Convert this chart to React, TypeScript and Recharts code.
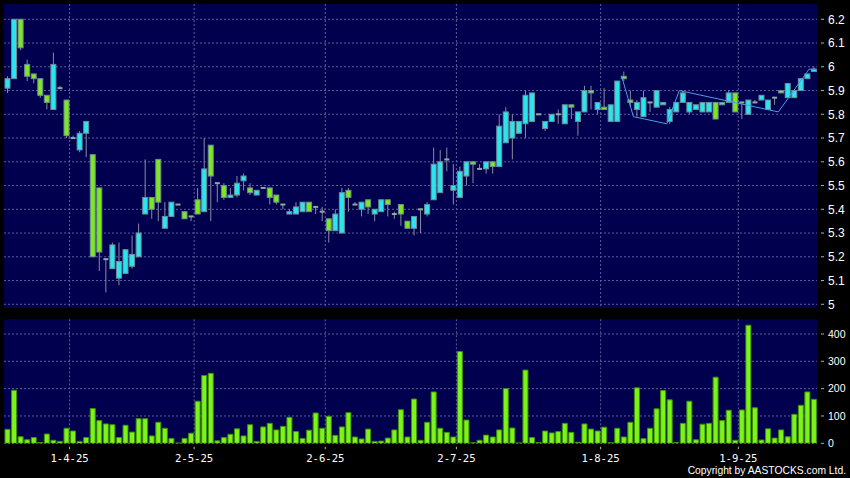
import React from "react";
import { ComposedChart, Bar, Line, XAxis, YAxis, CartesianGrid } from "recharts";

// daily OHLC, 18-3-25 .. 16-9-25
const opens = [
  5.91, 5.95, 6.2, 6.01, 5.97, 5.95, 5.88, 5.82, 5.91, 5.86,
  5.7, 5.65, 5.72, 5.63, 5.49, 5.19, 5.15, 5.11, 5.13, 5.16,
  5.2, 5.38, 5.45, 5.61, 5.32, 5.37, 5.42, 5.39, 5.37, 5.44,
  5.39, 5.67, 5.51, 5.5, 5.45, 5.46, 5.52, 5.49, 5.46, 5.49,
  5.49, 5.46, 5.42, 5.38, 5.38, 5.39, 5.43, 5.41, 5.39, 5.36,
  5.31, 5.3, 5.48, 5.42, 5.4, 5.44, 5.38, 5.39, 5.44, 5.38,
  5.42, 5.35, 5.32, 5.4, 5.38, 5.44, 5.47, 5.61, 5.48, 5.45,
  5.54, 5.6, 5.57, 5.57, 5.6, 5.58, 5.68, 5.7, 5.72, 5.76,
  5.77, 5.8, 5.74, 5.77, 5.8, 5.76, 5.84, 5.77, 5.81, 5.9,
  5.82, 5.83, 5.77, 5.77, 5.96, 5.86, 5.82, 5.79, 5.85, 5.83,
  5.84, 5.77, 5.81, 5.85, 5.81, 5.82, 5.81, 5.81, 5.85, 5.84,
  5.85, 5.89, 5.85, 5.8, 5.85, 5.86, 5.82, 5.87, 5.9, 5.87,
  5.87, 5.9, 5.95, 5.98,
];
const highs = [
  5.96, 6.2, 6.2, 6.03, 5.97, 5.95, 5.88, 6.06, 5.92, 5.86,
  5.71, 5.73, 5.77, 5.63, 5.49, 5.19, 5.26, 5.26, 5.23, 5.29,
  5.34, 5.61, 5.45, 5.61, 5.43, 5.43, 5.42, 5.39, 5.37, 5.49,
  5.7, 5.67, 5.51, 5.51, 5.49, 5.54, 5.55, 5.51, 5.48, 5.49,
  5.49, 5.46, 5.42, 5.4, 5.43, 5.43, 5.43, 5.41, 5.41, 5.36,
  5.4, 5.49, 5.49, 5.43, 5.43, 5.44, 5.4, 5.44, 5.44, 5.39,
  5.42, 5.35, 5.37, 5.4, 5.43, 5.66, 5.65, 5.66, 5.59, 5.58,
  5.6, 5.6, 5.59, 5.6, 5.6, 5.8, 5.83, 5.8, 5.77, 5.9,
  5.89, 5.8, 5.77, 5.8, 5.82, 5.84, 5.84, 5.81, 5.92, 5.92,
  5.85, 5.91, 5.84, 5.94, 5.98, 5.9, 5.86, 5.9, 5.85, 5.9,
  5.85, 5.83, 5.85, 5.9, 5.85, 5.84, 5.85, 5.85, 5.85, 5.85,
  5.9, 5.89, 5.85, 5.86, 5.86, 5.88, 5.86, 5.87, 5.9, 5.93,
  5.9, 5.95, 5.97, 6.0,
];
const lows = [
  5.89, 5.95, 6.07, 5.94, 5.93, 5.87, 5.82, 5.82, 5.91, 5.7,
  5.7, 5.64, 5.62, 5.2, 5.14, 5.05, 5.15, 5.08, 5.13, 5.15,
  5.2, 5.38, 5.36, 5.35, 5.32, 5.37, 5.42, 5.36, 5.35, 5.38,
  5.39, 5.35, 5.43, 5.44, 5.45, 5.45, 5.48, 5.46, 5.46, 5.49,
  5.42, 5.42, 5.4, 5.38, 5.38, 5.39, 5.39, 5.38, 5.35, 5.26,
  5.31, 5.3, 5.39, 5.42, 5.37, 5.38, 5.35, 5.39, 5.37, 5.36,
  5.33, 5.32, 5.29, 5.3, 5.37, 5.44, 5.47, 5.56, 5.42, 5.45,
  5.5, 5.51, 5.57, 5.55, 5.55, 5.58, 5.68, 5.61, 5.72, 5.7,
  5.77, 5.8, 5.73, 5.77, 5.76, 5.76, 5.78, 5.71, 5.81, 5.82,
  5.8, 5.82, 5.77, 5.77, 5.94, 5.83, 5.79, 5.79, 5.81, 5.83,
  5.84, 5.76, 5.81, 5.85, 5.8, 5.82, 5.81, 5.81, 5.78, 5.84,
  5.85, 5.81, 5.78, 5.8, 5.85, 5.86, 5.82, 5.84, 5.89, 5.87,
  5.87, 5.9, 5.95, 5.98,
];
const closes = [
  5.95, 6.2, 6.08, 5.96, 5.95, 5.88, 5.85, 6.01, 5.91, 5.71,
  5.7, 5.72, 5.77, 5.2, 5.22, 5.19, 5.25, 5.18, 5.23, 5.21,
  5.3, 5.45, 5.4, 5.43, 5.37, 5.43, 5.42, 5.36, 5.37, 5.38,
  5.57, 5.54, 5.51, 5.45, 5.46, 5.51, 5.54, 5.47, 5.48, 5.49,
  5.45, 5.43, 5.42, 5.39, 5.41, 5.43, 5.39, 5.41, 5.39, 5.31,
  5.38, 5.47, 5.45, 5.42, 5.43, 5.41, 5.4, 5.44, 5.42, 5.38,
  5.38, 5.32, 5.37, 5.4, 5.42, 5.59, 5.6, 5.61, 5.5, 5.56,
  5.6, 5.59, 5.57, 5.6, 5.58, 5.75, 5.81, 5.77, 5.77, 5.88,
  5.89, 5.8, 5.77, 5.8, 5.8, 5.84, 5.83, 5.81, 5.9, 5.89,
  5.85, 5.82, 5.84, 5.94, 5.95, 5.85, 5.85, 5.87, 5.85, 5.9,
  5.85, 5.82, 5.85, 5.89, 5.85, 5.84, 5.85, 5.85, 5.78, 5.85,
  5.89, 5.81, 5.85, 5.86, 5.85, 5.88, 5.86, 5.87, 5.89, 5.93,
  5.9, 5.95, 5.97, 5.99,
];
// volume ('000 shares)
const volumes = [
  51, 194, 24, 13, 21, 3, 34, 11, 7, 55,
  45, 7, 21, 127, 83, 71, 68, 21, 66, 41,
  90, 90, 27, 77, 55, 18, 1, 18, 37, 154,
  248, 256, 9, 21, 33, 53, 27, 68, 7, 60,
  73, 49, 62, 95, 43, 18, 48, 111, 55, 99,
  29, 60, 112, 23, 16, 52, 7, 8, 19, 49,
  123, 23, 162, 11, 77, 188, 55, 40, 23, 336,
  85, 2, 11, 30, 23, 49, 200, 56, 1, 268,
  21, 3, 45, 38, 43, 73, 40, 4, 71, 52,
  45, 59, 2, 55, 23, 77, 203, 17, 55, 126,
  193, 159, 3, 73, 154, 13, 70, 73, 242, 83,
  121, 11, 122, 432, 130, 12, 53, 19, 49, 24,
  106, 139, 188, 161,
];
const monthTicks = [9.5, 28.5, 48.5, 68.5, 90.5, 111.5];
const monthLabels = ["1-4-25", "2-5-25", "2-6-25", "2-7-25", "1-8-25", "1-9-25"];
const priceTicks = [5, 5.1, 5.2, 5.3, 5.4, 5.5, 5.6, 5.7, 5.8, 5.9, 6, 6.1, 6.2];
const volumeTicks = [0, 100, 200, 300, 400];
// hand-drawn trend line on the chart
const trendX = [93.7, 95.5, 100.6, 102.5, 117.6, 122.3, 123.3];
const trendY = [5.96, 5.79, 5.76, 5.9, 5.81, 5.99, 5.99];

const rows = opens.map((o, i) => ({
  i,
  open: o,
  high: highs[i],
  low: lows[i],
  close: closes[i],
  vol: volumes[i],
}));
const trend = trendX.map((x, k) => ({ t: x, v: trendY[k] }));

const UP = "#2ae4ee";
const DOWN = "#7ce81e";
const GRID = "#5c5c9c";
const PLOT_BG = "#00004e";
const X_DOMAIN = [-0.5, 123.5];

const Candle = (props: any) => {
  const { x, y, width, height, payload } = props;
  const { open, close, high, low } = payload;
  const span = high - low;
  const k = span > 0 ? height / span : 0;
  const py = (v: number) => y + (high - v) * k;
  const cx = x + width / 2;
  const top = py(Math.max(open, close));
  const bot = py(Math.min(open, close));
  const wick = (
    <line x1={cx} x2={cx} y1={py(high)} y2={py(low)} stroke="#8a8aa0" strokeWidth={1} />
  );
  if (open === close) {
    return (
      <g>
        {wick}
        <rect x={x} y={top - 1} width={width} height={2} fill="#8fa8a0" />
      </g>
    );
  }
  return (
    <g>
      {wick}
      <rect
        x={x}
        y={top}
        width={width}
        height={Math.max(bot - top, 1)}
        fill={close > open ? UP : DOWN}
        stroke="#6f8c98"
        strokeWidth={1}
      />
    </g>
  );
};

const RightTick = ({ x, y, payload, size }: any) => (
  <g>
    <line x1={x + 4} x2={x + 7} y1={y} y2={y} stroke="#b0b0b0" />
    <text
      x={x + 11}
      y={y}
      dy={size * 0.36}
      fill="#ffffff"
      fontSize={size}
      fontFamily="'Liberation Sans', Arial, sans-serif"
    >
      {payload.value}
    </text>
  </g>
);

const DateTick = ({ x, y, payload }: any) => (
  <g>
    <line x1={x} x2={x} y1={y + 3.4} y2={y + 6} stroke="#b0b0b0" />
    <text
      x={x}
      y={y + 18.4}
      textAnchor="middle"
      fill="#ffffff"
      fontSize={10.6}
      fontFamily="'DejaVu Sans Mono', monospace"
    >
      {monthLabels[monthTicks.indexOf(payload.value)]}
    </text>
  </g>
);

export default function App() {
  return (
    <div style={{ position: "relative", width: 850, height: 478, background: "#000" }}>
      <style>{"body{margin:0;background:#000}"}</style>
      <ComposedChart
        width={850}
        height={312}
        data={rows}
        margin={{ top: 4, right: 0, bottom: 4, left: 4 }}
      >
        <CartesianGrid
          fill={PLOT_BG}
          stroke={GRID}
          strokeDasharray="2 2"
          verticalValues={monthTicks}
          horizontalValues={priceTicks}
        />
        <XAxis
          dataKey="i"
          type="number"
          domain={X_DOMAIN}
          ticks={monthTicks}
          allowDataOverflow
          hide
        />
        <XAxis
          xAxisId="trend"
          dataKey="t"
          type="number"
          domain={X_DOMAIN}
          allowDataOverflow
          hide
        />
        <YAxis
          orientation="right"
          width={33}
          domain={[4.9844, 6.2644]}
          ticks={priceTicks}
          allowDataOverflow
          axisLine={false}
          tickLine={false}
          tickSize={0}
          tickMargin={0}
          interval={0}
          tick={<RightTick size={12} />}
        />
        <Bar
          dataKey={(d: any) => [d.low, d.high]}
          barSize={5}
          shape={<Candle />}
          isAnimationActive={false}
        />
        <Line
          xAxisId="trend"
          data={trend}
          dataKey="v"
          type="linear"
          stroke="#4d9be6"
          strokeWidth={1}
          dot={false}
          isAnimationActive={false}
        />
      </ComposedChart>
      <ComposedChart
        width={850}
        height={166}
        data={rows}
        margin={{ top: 7.3, right: 0, bottom: 0, left: 4 }}
      >
        <CartesianGrid
          fill={PLOT_BG}
          stroke={GRID}
          strokeDasharray="2 2"
          verticalValues={monthTicks}
          horizontalValues={volumeTicks}
        />
        <XAxis
          dataKey="i"
          type="number"
          domain={X_DOMAIN}
          ticks={monthTicks}
          allowDataOverflow
          height={34.7}
          axisLine={false}
          tickLine={false}
          tickSize={0}
          tickMargin={0}
          interval={0}
          tick={<DateTick />}
        />
        <YAxis
          orientation="right"
          width={33}
          domain={[0, 453.7]}
          ticks={volumeTicks}
          allowDataOverflow
          axisLine={false}
          tickLine={false}
          tickSize={0}
          tickMargin={0}
          interval={0}
          tick={<RightTick size={10.5} />}
        />
        <Bar
          dataKey="vol"
          barSize={5}
          fill="#7cf41a"
          stroke="#3f8f08"
          strokeWidth={1}
          isAnimationActive={false}
        />
      </ComposedChart>
      <svg
        width={850}
        height={478}
        style={{ position: "absolute", left: 0, top: 0, pointerEvents: "none" }}
      >
        <text
          x={846}
          y={473.5}
          textAnchor="end"
          fill="#ffffff"
          fontSize={10.3}
          fontFamily="'Liberation Sans', Arial, sans-serif"
        >
          Copyright by AASTOCKS.com Ltd.
        </text>
      </svg>
    </div>
  );
}
